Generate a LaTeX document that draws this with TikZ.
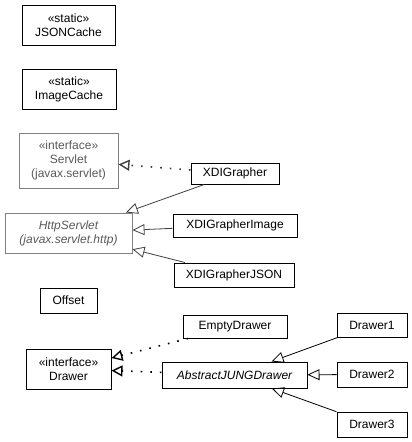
\documentclass[tikz,border=0pt]{standalone}
\usepackage{fontspec}
\setmainfont{Liberation Sans}
\usetikzlibrary{arrows.meta}

\begin{document}
\begin{tikzpicture}[x=1pt, y=-1pt,
        font=\fontsize{12}{14}\selectfont,
        cls/.style={draw, line width=1pt, align=center, inner sep=1pt},
        ext/.style={cls, draw=gray, text=black!65},
        gen/.style={-{Triangle[open, length=12pt, width=11pt]}, line width=0.8pt},
        impl/.style={-{Triangle[open, length=11pt, width=11pt, line width=1.4pt]}, line width=1.6pt, dash pattern=on 1.6pt off 8pt}]
        \useasboundingbox (0,0) rectangle (412,442);

        % static caches
        \node[cls, minimum width=93, minimum height=40] (jsoncache) at (68.5,25) {«static»\\JSONCache};
        \node[cls, minimum width=94, minimum height=40] (imagecache) at (69,89) {«static»\\ImageCache};

        % servlet side
        \node[ext, minimum width=99, minimum height=55] (servlet) at (68.5,160.5) {«interface»\\Servlet\\(javax.servlet)};
        \node[ext, minimum width=127, minimum height=40, font=\fontsize{12}{14}\selectfont\itshape] (httpservlet) at (68.5,233) {HttpServlet\\(javax.servlet.http)};
        \node[cls, minimum width=88, minimum height=21] (xdigrapher) at (235,173.5) {XDIGrapher};
        \node[cls, minimum width=124, minimum height=23] (xdigrapherimage) at (235,225.5) {XDIGrapherImage};
        \node[cls, minimum width=120, minimum height=24] (xdigrapherjson) at (234,275) {XDIGrapherJSON};

        \draw[impl, black!75] (xdigrapher) -- (servlet);
        \draw[gen, black!75] (xdigrapher) -- (httpservlet);
        \draw[gen, black!75] (xdigrapherimage) -- (httpservlet);
        \draw[gen, black!75] (xdigrapherjson) -- (httpservlet);

        % drawers
        \node[cls, minimum width=57, minimum height=25] (offset) at (68.5,300.5) {Offset};
        \node[cls, minimum width=85, minimum height=40] (drawer) at (68.5,369) {«interface»\\Drawer};
        \node[cls, minimum width=104, minimum height=23] (emptydrawer) at (235,326.5) {EmptyDrawer};
        \node[cls, minimum width=145, minimum height=26, font=\fontsize{12}{14}\selectfont\itshape] (abstractjung) at (234.5,375) {AbstractJUNGDrawer};
        \node[cls, minimum width=70, minimum height=24] (drawer1) at (372,325) {Drawer1};
        \node[cls, minimum width=70, minimum height=25] (drawer2) at (372,374.5) {Drawer2};
        \node[cls, minimum width=70, minimum height=25] (drawer3) at (372,424.5) {Drawer3};

        \draw[impl] (emptydrawer) -- (drawer);
        \draw[impl] (abstractjung) -- (drawer);
        \draw[gen] (drawer1) -- (abstractjung);
        \draw[gen] (drawer2) -- (abstractjung);
        \draw[gen] (drawer3) -- (abstractjung);
\end{tikzpicture}
\end{document}
